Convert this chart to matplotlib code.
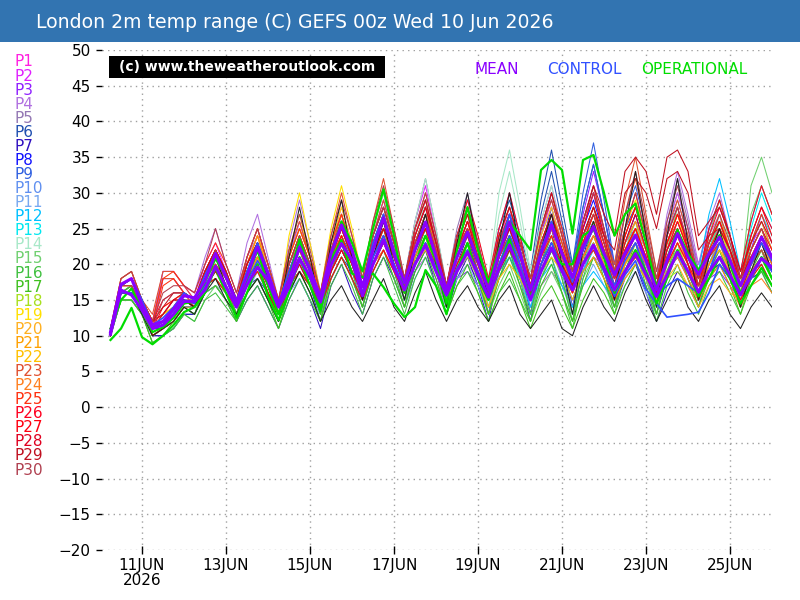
import numpy as np
import matplotlib
matplotlib.use("Agg")
import matplotlib.pyplot as plt
from matplotlib.patches import Rectangle

TITLE = "London 2m temp range (C) GEFS 00z Wed 10 Jun 2026"
FIRST_HOUR = 6      # first step: 10 Jun 06z
STEP_HOURS = 6
TICK_DAYS = [1, 3, 5, 7, 9, 11, 13, 15]
TICK_LABELS = ["11JUN\n2026", "13JUN", "15JUN", "17JUN", "19JUN", "21JUN", "23JUN", "25JUN"]
YTICKS = list(range(-20, 55, 5))

MEMBER_NAMES = ["P%d" % k for k in range(1, 31)]
MEMBER_COLORS = ["#ff20e0", "#e020ff", "#9020ff", "#b070e0", "#9478b4", "#2050b0", "#3010c0",
                 "#1010ff", "#3060e0", "#6090f0", "#78a8f0", "#00c0ff", "#00e8f0", "#a8e8c8",
                 "#70d070", "#40c040", "#40c020", "#a8e020", "#ffe000", "#ffb020", "#ffa000",
                 "#ffc000", "#e05030", "#ff8020", "#ff3010", "#ff0020", "#ff0010", "#e00020",
                 "#c01020", "#b04050"]

P1_MAX = [10,17,18,15, 12,13,15,16, 15,19,22,19, 15,20,24,20, 15,20,24,20, 16,23,27,22, 17,24,28,23, 18,25,29,23, 17,23,27,22, 16,23,28,22, 17,24,29,24, 18,25,30,24, 19,23,26,22, 17,24,28,23, 18,25,29,24, 18,23,26,22]
P1_MIN = [10,16,16,14, 11,12,14,15, 14,17,19,17, 14,18,21,18, 14,18,21,18, 15,21,24,20, 16,22,25,21, 17,23,26,21, 16,21,24,20, 15,21,25,20, 16,22,26,22, 17,23,27,22, 18,21,23,20, 16,22,25,21, 17,23,26,22, 17,21,23,20]
P2_MAX = [11,17,18,15, 12,19,19,17, 15,20,23,19, 14,21,25,20, 14,21,26,21, 15,23,28,23, 18,23,27,22, 18,26,31,24, 17,24,29,23, 17,23,27,22, 16,21,25,21, 17,21,24,22, 19,23,26,22, 18,25,30,25, 20,25,28,24, 19,23,25,21]
P2_MIN = [11,16,16,14, 11,18,18,16, 14,18,20,17, 13,19,22,18, 13,19,23,19, 14,21,25,21, 17,21,24,20, 17,24,28,22, 16,22,26,21, 16,21,24,20, 15,19,22,19, 16,19,21,20, 18,21,23,20, 17,23,27,23, 19,23,25,22, 18,21,22,19]
P3_MAX = [10,16,17,14, 11,12,13,15, 15,19,21,18, 14,18,21,17, 13,19,23,19, 14,21,26,21, 16,24,29,24, 18,23,27,22, 17,20,22,19, 15,20,24,20, 16,24,30,25, 19,27,33,27, 20,25,28,23, 17,21,24,20, 16,20,22,19, 16,22,27,23]
P3_MIN = [10,15,15,13, 10,11,12,14, 14,17,18,16, 13,16,18,15, 12,17,20,17, 13,19,23,19, 15,22,26,22, 17,21,24,20, 16,18,19,17, 14,18,21,18, 15,22,27,23, 18,25,30,25, 19,23,25,21, 16,19,21,18, 15,18,19,17, 15,20,24,21]
P4_MAX = [11,18,19,15, 12,19,19,17, 16,21,25,20, 16,23,27,21, 15,23,29,23, 16,23,27,22, 17,22,25,21, 16,21,24,20, 15,20,23,20, 17,24,28,23, 18,26,31,25, 19,24,27,23, 18,22,25,22, 18,27,33,27, 20,26,30,24, 17,21,24,20]
P4_MIN = [11,17,17,14, 11,18,18,16, 15,19,22,18, 15,21,24,19, 14,21,26,21, 15,21,24,20, 16,20,22,19, 15,19,21,18, 14,18,20,18, 16,22,25,21, 17,24,28,23, 18,22,24,21, 17,20,22,20, 17,25,30,25, 19,24,27,22, 16,19,21,18]
P5_MAX = [10,17,18,15, 11,12,14,16, 15,19,22,19, 15,20,23,18, 14,20,24,20, 16,22,26,22, 18,25,30,24, 18,26,32,25, 17,25,30,23, 16,22,26,21, 15,19,22,19, 16,21,24,21, 18,23,27,22, 17,26,32,26, 19,23,26,22, 17,20,22,19]
P5_MIN = [10,16,16,14, 10,11,13,15, 14,17,19,17, 14,18,20,16, 13,18,21,18, 15,20,23,20, 17,23,27,22, 17,24,29,23, 16,23,27,21, 15,20,23,19, 14,17,19,17, 15,19,21,19, 17,21,24,20, 16,24,29,24, 18,21,23,20, 16,18,19,17]
P6_MAX = [10,17,18,14, 11,11,12,14, 14,18,20,18, 15,19,21,18, 14,19,22,19, 15,20,24,21, 17,23,27,22, 17,24,28,22, 16,22,26,22, 18,25,29,24, 19,29,36,28, 20,28,34,27, 19,24,28,23, 17,22,25,21, 17,21,23,20, 17,22,25,21]
P6_MIN = [10,16,16,13, 10,10,11,13, 13,16,17,16, 14,17,18,16, 13,17,19,17, 14,18,21,19, 16,21,24,20, 16,22,25,20, 15,20,23,20, 17,23,26,22, 18,27,33,26, 19,26,31,25, 18,22,25,21, 16,20,22,19, 16,19,20,18, 16,20,22,19]
P7_MAX = [10,16,17,14, 11,11,12,14, 14,18,20,17, 13,17,20,16, 12,17,21,17, 12,19,23,18, 14,20,24,20, 15,21,25,19, 14,20,24,19, 13,21,27,20, 13,22,28,21, 14,21,26,21, 15,20,23,18, 13,18,22,19, 15,21,25,20, 15,20,24,20]
P7_MIN = [10,15,15,13, 10,10,11,13, 13,16,17,15, 12,15,17,14, 11,15,18,15, 11,17,20,16, 13,18,21,18, 14,19,22,17, 13,18,21,17, 12,19,24,18, 12,20,25,19, 13,19,23,19, 14,18,20,16, 12,16,19,17, 14,19,22,18, 14,18,21,18]
P8_MAX = [10,17,18,15, 11,12,13,15, 15,19,21,18, 15,19,22,18, 14,19,22,19, 15,21,25,21, 17,22,26,22, 17,23,27,21, 16,21,25,21, 16,21,24,20, 17,22,26,22, 18,25,29,24, 18,23,27,22, 17,21,24,21, 17,21,23,20, 16,20,22,18]
P8_MIN = [10,16,16,14, 10,11,12,14, 14,17,18,16, 14,17,19,16, 13,17,19,17, 14,19,22,19, 16,20,23,20, 16,21,24,19, 15,19,22,19, 15,19,21,18, 16,20,23,20, 17,23,26,22, 17,21,24,20, 16,19,21,19, 16,19,20,18, 15,18,19,16]
P9_MAX = [10,17,18,15, 11,12,14,16, 15,19,21,18, 15,20,23,19, 14,21,25,21, 16,21,25,21, 17,22,26,22, 17,24,28,22, 16,22,26,22, 17,23,27,23, 18,25,30,25, 20,30,37,29, 20,27,31,25, 18,23,27,23, 18,22,25,21, 17,21,23,19]
P9_MIN = [10,16,16,14, 10,11,13,15, 14,17,18,16, 14,18,20,17, 13,19,22,19, 15,19,22,19, 16,20,23,20, 16,22,25,20, 15,20,23,20, 16,21,24,21, 17,23,27,23, 19,28,34,27, 19,25,28,23, 17,21,24,21, 17,20,22,19, 16,19,20,17]
P10_MAX = [11,17,18,14, 11,12,13,15, 15,19,21,18, 15,19,22,18, 14,19,23,19, 15,22,26,22, 17,23,27,22, 17,22,26,21, 17,24,28,23, 17,25,30,24, 17,23,27,23, 18,23,26,22, 17,21,24,21, 17,22,26,22, 18,25,29,24, 18,23,26,22]
P10_MIN = [11,16,16,13, 10,11,12,14, 14,17,18,16, 14,17,19,16, 13,17,20,17, 14,20,23,20, 16,21,24,20, 16,20,23,19, 16,22,25,21, 16,23,27,22, 16,21,24,21, 17,21,23,20, 16,19,21,19, 16,20,23,20, 17,23,26,22, 17,21,23,20]
P11_MAX = [10,16,17,14, 11,12,13,15, 14,18,20,17, 13,18,22,18, 13,18,21,17, 14,20,24,20, 15,21,25,20, 15,20,24,19, 15,20,23,19, 14,21,25,20, 14,20,24,19, 14,19,23,19, 15,19,22,18, 14,21,25,20, 15,22,27,21, 15,20,24,20]
P11_MIN = [10,15,15,13, 10,11,12,14, 13,16,17,15, 12,16,19,16, 12,16,18,15, 13,18,21,18, 14,19,22,18, 14,18,21,17, 14,18,20,17, 13,19,22,18, 13,18,21,17, 13,17,20,17, 14,17,19,16, 13,19,22,18, 14,20,24,19, 14,18,21,18]
P12_MAX = [10,17,18,15, 11,12,13,15, 15,19,21,18, 15,19,22,18, 14,19,23,19, 15,20,24,20, 16,22,26,22, 17,24,28,23, 17,23,27,22, 16,21,25,20, 15,20,23,19, 15,19,22,19, 16,21,25,21, 17,23,27,23, 19,27,32,26, 19,26,31,27]
P12_MIN = [10,16,16,14, 10,11,12,14, 14,17,18,16, 14,17,19,16, 13,17,20,17, 14,18,21,18, 15,20,23,20, 16,22,25,21, 16,21,24,20, 15,19,22,18, 14,18,20,17, 14,17,19,17, 15,19,22,19, 16,21,24,21, 18,25,29,24, 18,24,28,25]
P13_MAX = [10,17,18,15, 11,12,14,16, 15,19,21,18, 15,20,23,19, 14,20,24,20, 15,22,27,22, 17,24,28,23, 17,23,27,22, 16,21,25,21, 16,21,24,20, 16,22,26,22, 18,24,28,23, 18,23,26,22, 17,21,24,21, 17,22,26,22, 18,25,30,26]
P13_MIN = [10,16,16,14, 10,11,13,15, 14,17,18,16, 14,18,20,17, 13,18,21,18, 14,20,24,20, 16,22,25,21, 16,21,24,20, 15,19,22,19, 15,19,21,18, 15,20,23,20, 17,22,25,21, 17,21,23,20, 16,19,21,19, 16,20,23,20, 17,23,27,24]
P14_MAX = [10,16,17,14, 11,12,13,15, 14,18,20,18, 15,19,22,18, 14,19,23,19, 15,22,26,22, 17,25,30,24, 18,26,32,25, 17,24,29,24, 18,30,36,28, 19,26,31,24, 17,22,25,21, 16,20,23,20, 16,21,25,21, 16,21,24,20, 15,19,22,18]
P14_MIN = [10,15,15,13, 10,11,12,14, 13,16,17,16, 14,17,19,16, 13,17,20,17, 14,20,23,20, 16,23,27,22, 17,24,29,23, 16,22,26,22, 17,27,33,26, 18,24,28,22, 16,20,22,19, 15,18,20,18, 15,19,22,19, 15,19,21,18, 14,17,19,16]
P15_MAX = [10,16,17,14, 10,11,12,14, 13,17,20,17, 13,18,21,17, 13,18,22,18, 13,20,24,20, 15,21,25,20, 15,22,26,21, 15,21,25,20, 14,19,23,18, 13,18,22,18, 13,20,24,20, 15,22,26,20, 14,22,28,22, 16,24,29,23, 17,31,35,30]
P15_MIN = [10,15,15,13, 9,10,11,13, 12,15,17,15, 12,16,18,15, 12,16,19,16, 12,18,21,18, 14,19,22,18, 14,20,23,19, 14,19,22,18, 13,17,20,16, 12,16,19,16, 12,18,21,18, 14,20,23,18, 13,20,25,20, 15,22,26,21, 16,27,31,27]
P16_MAX = [10,16,17,14, 10,11,12,14, 13,17,19,16, 13,17,20,16, 12,17,21,17, 13,19,23,19, 14,20,24,19, 14,20,24,19, 14,19,22,18, 13,18,21,17, 13,20,24,18, 12,20,26,20, 14,21,25,19, 13,19,23,18, 14,19,22,18, 14,20,24,20]
P16_MIN = [10,15,15,13, 9,10,11,13, 12,15,16,14, 12,15,17,14, 11,15,18,15, 12,17,20,17, 13,18,21,17, 13,18,21,17, 13,17,19,16, 12,16,18,15, 12,18,21,16, 11,18,23,18, 13,19,22,17, 12,17,20,16, 13,17,19,16, 13,18,21,18]
P17_MAX = [10,16,17,14, 10,11,13,15, 14,18,20,17, 13,18,21,17, 12,18,22,18, 13,20,24,20, 15,21,25,20, 15,21,25,20, 14,19,23,18, 13,18,22,17, 12,17,20,16, 12,17,21,18, 14,19,23,19, 14,21,25,20, 15,20,23,19, 14,19,22,18]
P17_MIN = [10,15,15,13, 9,10,12,14, 13,16,17,15, 12,16,18,15, 11,16,19,16, 12,18,21,18, 14,19,22,18, 14,19,22,18, 13,17,20,16, 12,16,19,15, 11,15,17,14, 11,15,18,16, 13,17,20,17, 13,19,22,18, 14,18,20,17, 13,17,19,16]
P18_MAX = [10,17,18,15, 11,12,14,16, 15,19,21,18, 15,19,22,18, 14,19,22,19, 15,21,25,21, 17,22,26,22, 17,22,26,21, 16,21,24,20, 16,22,26,22, 17,23,27,22, 17,22,25,21, 17,21,24,20, 16,20,22,19, 16,21,24,21, 17,22,25,21]
P18_MIN = [10,16,16,14, 10,11,13,15, 14,17,18,16, 14,17,19,16, 13,17,19,17, 14,19,22,19, 16,20,23,20, 16,20,23,19, 15,19,21,18, 15,20,23,20, 16,21,24,20, 16,20,22,19, 16,19,21,18, 15,18,19,17, 15,19,21,19, 16,20,22,19]
P19_MAX = [11,17,18,15, 12,13,14,16, 15,19,22,19, 15,20,24,19, 14,24,30,23, 16,25,31,25, 18,23,27,22, 17,22,26,22, 17,22,25,21, 17,23,27,22, 17,22,26,22, 18,24,28,24, 19,25,29,24, 18,23,27,22, 17,22,25,21, 17,21,24,20]
P19_MIN = [11,16,16,14, 11,12,13,15, 14,17,19,17, 14,18,21,17, 13,22,27,21, 15,23,28,23, 17,21,24,20, 16,20,23,20, 16,20,22,19, 16,21,24,20, 16,20,23,20, 17,22,25,22, 18,23,26,22, 17,21,24,20, 16,20,22,19, 16,19,21,18]
P20_MAX = [11,17,18,15, 12,13,14,16, 15,19,22,19, 15,20,24,20, 15,21,25,21, 16,23,27,22, 17,22,26,22, 17,22,25,21, 17,23,27,22, 17,22,26,22, 18,24,28,23, 18,23,27,22, 17,22,25,21, 16,20,23,19, 15,19,21,18, 16,20,23,19]
P20_MIN = [11,16,16,14, 11,12,13,15, 14,17,19,17, 14,18,21,18, 14,19,22,19, 15,21,24,20, 16,20,23,20, 16,20,22,19, 16,21,24,20, 16,20,23,20, 17,22,25,21, 17,21,24,20, 16,20,22,19, 15,18,20,17, 14,17,18,16, 15,18,20,17]
P21_MAX = [10,17,18,15, 11,12,13,15, 15,19,21,18, 15,20,23,19, 14,20,24,20, 15,22,26,22, 17,23,27,23, 18,24,28,22, 17,22,26,21, 16,23,27,22, 16,21,25,21, 16,21,24,20, 16,20,23,20, 17,22,26,22, 18,23,27,22, 17,22,25,21]
P21_MIN = [10,16,16,14, 10,11,12,14, 14,17,18,16, 14,18,20,17, 13,18,21,18, 14,20,23,20, 16,21,24,21, 17,22,25,20, 16,20,23,19, 15,21,24,20, 15,19,22,19, 15,19,21,18, 15,18,20,18, 16,20,23,20, 17,21,24,20, 16,20,22,19]
P22_MAX = [11,18,19,15, 12,14,15,16, 15,19,22,19, 15,20,24,20, 15,21,25,21, 16,23,27,22, 17,22,26,22, 17,23,27,21, 16,21,25,20, 15,20,23,20, 16,21,24,21, 17,22,26,22, 18,24,28,23, 18,23,27,22, 17,22,25,22, 18,23,26,22]
P22_MIN = [11,17,17,14, 11,13,14,15, 14,17,19,17, 14,18,21,18, 14,19,22,19, 15,21,24,20, 16,20,23,20, 16,21,24,19, 15,19,22,18, 14,18,20,18, 15,19,21,19, 16,20,23,20, 17,22,25,21, 17,21,24,20, 16,20,22,20, 17,21,23,20]
P23_MAX = [11,17,18,15, 13,19,19,17, 15,19,22,19, 15,21,25,20, 15,22,26,21, 16,24,30,24, 18,26,32,25, 18,25,30,24, 17,24,28,22, 16,22,26,21, 16,21,25,21, 17,23,27,24, 20,29,35,27, 19,25,29,24, 18,23,26,22, 17,21,24,20]
P23_MIN = [11,16,16,14, 12,18,18,16, 14,17,19,17, 14,19,22,18, 14,20,23,19, 15,22,27,22, 17,24,29,23, 17,23,27,22, 16,22,25,20, 15,20,23,19, 15,19,22,19, 16,21,24,22, 19,27,32,25, 18,23,26,22, 17,21,23,20, 16,19,21,18]
P24_MAX = [11,17,18,15, 12,13,15,16, 15,19,22,19, 15,20,24,19, 14,20,24,20, 16,22,26,22, 17,22,25,21, 17,23,27,22, 17,22,26,21, 17,24,28,23, 18,25,29,24, 18,23,27,23, 18,23,26,22, 17,21,24,20, 16,20,23,19, 15,19,21,18]
P24_MIN = [11,16,16,14, 11,12,14,15, 14,17,19,17, 14,18,21,17, 13,18,21,18, 15,20,23,20, 16,20,22,19, 16,21,24,20, 16,20,23,19, 16,22,25,21, 17,23,26,22, 17,21,24,21, 17,21,23,20, 16,19,21,18, 15,18,20,17, 14,17,18,16]
P25_MAX = [11,18,19,15, 12,18,19,17, 16,20,23,20, 16,21,25,20, 15,21,25,21, 16,23,27,22, 17,24,28,23, 18,25,29,23, 17,23,27,22, 17,24,28,23, 18,25,30,25, 19,26,31,25, 19,24,28,23, 18,23,27,23, 18,23,26,22, 18,23,27,23]
P25_MIN = [11,17,17,14, 11,17,18,16, 15,18,20,18, 15,19,22,18, 14,19,22,19, 15,21,24,20, 16,22,25,21, 17,23,26,21, 16,21,24,20, 16,22,25,21, 17,23,27,23, 18,24,28,23, 18,22,25,21, 17,21,24,21, 17,21,23,20, 17,21,24,21]
P26_MAX = [11,17,18,15, 12,15,16,16, 15,19,22,19, 15,20,23,18, 14,19,23,19, 15,21,25,21, 17,22,26,22, 17,24,28,23, 17,24,29,24, 18,25,30,24, 17,23,27,22, 17,22,25,21, 16,21,24,21, 17,22,26,22, 18,24,28,24, 19,26,31,27]
P26_MIN = [11,16,16,14, 11,14,15,15, 14,17,19,17, 14,18,20,16, 13,17,20,17, 14,19,22,19, 16,20,23,20, 16,22,25,21, 16,22,26,22, 17,23,27,22, 16,21,24,20, 16,20,22,19, 15,19,21,19, 16,20,23,20, 17,22,25,22, 18,24,28,25]
P27_MAX = [10,17,18,15, 11,12,14,16, 15,19,21,18, 15,19,22,18, 14,19,22,19, 15,20,24,20, 16,21,25,21, 17,22,26,22, 17,24,28,23, 17,23,27,22, 17,22,26,22, 18,25,30,24, 18,24,28,23, 17,23,27,23, 18,25,29,24, 18,24,28,24]
P27_MIN = [10,16,16,14, 10,11,13,15, 14,17,18,16, 14,17,19,16, 13,17,19,17, 14,18,21,18, 15,19,22,19, 16,20,23,20, 16,22,25,21, 16,21,24,20, 16,20,23,20, 17,23,27,22, 17,22,25,21, 16,21,24,21, 17,23,26,22, 17,22,25,22]
P28_MAX = [11,17,18,15, 12,13,15,16, 15,19,22,19, 15,20,23,18, 14,19,23,19, 15,21,25,21, 17,23,27,22, 17,24,28,23, 17,22,26,21, 16,21,25,21, 16,22,26,22, 18,24,28,23, 18,25,30,24, 17,24,28,22, 16,21,24,20, 16,20,23,19]
P28_MIN = [11,16,16,14, 11,12,14,15, 14,17,19,17, 14,18,20,16, 13,17,20,17, 14,19,22,19, 16,21,24,20, 16,22,25,21, 16,20,23,19, 15,19,22,19, 15,20,23,20, 17,22,25,21, 17,23,27,22, 16,22,25,20, 15,19,21,18, 15,18,20,17]
P29_MAX = [11,17,18,15, 12,14,16,16, 15,19,22,19, 15,20,23,19, 14,20,24,20, 15,22,26,22, 17,24,28,23, 18,25,29,23, 17,23,27,22, 17,24,28,23, 18,25,30,24, 18,26,31,27, 24,33,35,33, 27,35,36,33, 24,26,28,24, 19,23,26,23]
P29_MIN = [11,16,16,14, 11,13,15,15, 14,17,19,17, 14,18,20,17, 13,18,21,18, 14,20,23,20, 16,22,25,21, 17,23,26,21, 16,21,24,20, 16,22,25,21, 17,23,27,22, 17,24,28,24, 22,30,32,30, 25,32,33,30, 22,24,25,22, 18,21,23,21]
P30_MAX = [11,18,19,15, 12,16,17,17, 16,20,25,20, 16,21,25,20, 15,22,27,22, 16,24,29,24, 18,26,31,25, 18,25,30,24, 17,24,28,23, 17,23,27,23, 18,25,29,24, 19,26,30,25, 19,27,33,26, 19,26,31,25, 18,23,27,23, 18,22,25,21]
P30_MIN = [11,17,17,14, 11,15,16,16, 15,18,22,18, 15,19,22,18, 14,20,24,20, 15,22,26,22, 17,24,28,23, 17,23,27,22, 16,22,25,21, 16,21,24,21, 17,23,26,22, 18,24,27,23, 18,25,30,24, 18,24,28,23, 17,21,24,21, 17,20,22,19]

EXTRA_MAX = [10,17,18,14, 11,12,13,15, 14,18,21,17, 14,19,23,18, 13,21,28,21, 14,23,29,21, 15,21,26,20, 15,22,27,20, 14,23,30,22, 15,23,30,22, 15,22,27,20, 13,22,26,21, 15,25,33,24, 14,24,32,23, 15,21,25,19, 14,19,23,19]
EXTRA_MIN = [10,16,16,13, 10,11,12,14, 13,16,18,15, 13,16,18,15, 12,16,19,16, 12,15,17,14, 12,15,18,14, 12,16,19,15, 12,15,17,14, 12,15,17,13, 11,13,15,11, 10,14,17,14, 12,16,19,15, 12,15,18,14, 12,15,17,13, 11,14,16,14]

CONTROL_MAX = [10.5,17,18,15, 11.5,12.5,14,16, 15,18.5,21.5,18.5, 15,19,23,19, 14.5,19,23,19.5, 15.5,21.5,25.5,22, 17,23,27,22, 17.5,22,26,21, 16.5,21,24.5,20.5, 16.5,22,27,22, 16.5,22,26,21.5, 17.5,22,25,21, 17,20.5,23,19, 15.5,17,18,17, 16,19,23,20, 17,20,23,20.5]
CONTROL_MIN = [10.2,16,16,14, 11,12,13.5,15, 14.5,17,19.5,17, 14,17.5,20.5,18, 14,17,20.5,18, 15,20,23,20.5, 16,21,24,20, 16.5,20,23,19.5, 15.5,19.5,22,19, 15.5,20,24,20, 15.5,20,23,19.5, 16.5,20,22.5,19, 15.5,18.5,20.5,16.5, 14.5,12.6,12.8,13.0, 13.3,16,20,18, 16,18,21,19]

OPER_MAX = [11,15,16.6,13.6, 10.5,11.2,12.5,14.5, 14.8,17.5,20.8,18.3, 14.5,18,22,17, 13,18,23.5,19, 14,21,26,23, 19,25,30.5,24, 16,20,24,20.5, 14.5,22,28,22, 17.5,22,26,24, 22,33.2,34.6,33.2, 24.3,34.6,35.3,30, 24,27,28.5,23, 16.8,20.5,24.8,21.5, 19.2,21.5,24.1,20, 16,18.5,21,18]
OPER_MIN = [9.4,11,13.9,9.8, 8.8,10,11.5,13.3, 14,16,19.5,16, 12.5,16,20,15.5, 12.2,16,21,17, 13.5,20.6,23.4,18.7, 18.2,18.7,16.8,14.5, 12.6,14,19.2,17, 13,19,23,18, 15,19.5,23.5,19, 15.5,19,22,20, 20,24,25,21, 16,19,22,19, 14.5,18,22,19, 15.5,18,21,18, 14.5,17,19.5,17]

MEAN_MAX = [10.5,17.2,18.0,14.3, 11.5,12.0,13.7,15.6, 15.3,17.7,21.5,18.2, 14.7,18.3,22.4,18.7, 14.5,17.8,22.4,19.2, 15.4,21.5,25.5,22.0, 16.8,22.0,26.5,21.5, 17.4,22.0,25.9,21.0, 16.4,21.0,24.5,20.5, 16.4,21.5,25.9,21.5, 16.4,21.5,25.5,21.5, 18.2,22.5,25.3,21.5, 18.5,21.5,24.1,20.5, 16.4,20.5,24.3,21.0, 18.6,21.5,23.8,20.5, 17.0,20.5,23.8,21.0]
MEAN_MIN = [10.2,16.4,15.7,13.6, 11.0,11.5,13.0,14.8, 14.8,16.4,19.7,16.8, 14.0,17.1,19.6,17.8, 14.0,16.8,20.8,18.3, 14.7,19.9,22.9,20.6, 15.6,20.0,23.4,19.5, 16.4,20.0,22.7,19.0, 15.7,19.0,21.7,18.5, 15.4,19.5,22.7,19.0, 15.0,19.0,22.3,19.0, 16.4,20.0,22.7,19.5, 16.4,19.0,21.5,18.5, 15.5,18.5,21.7,19.0, 16.1,19.0,21.0,18.5, 15.7,18.5,20.8,19.6]

MEMBERS_MAX = [P1_MAX, P2_MAX, P3_MAX, P4_MAX, P5_MAX, P6_MAX, P7_MAX, P8_MAX, P9_MAX, P10_MAX,
               P11_MAX, P12_MAX, P13_MAX, P14_MAX, P15_MAX, P16_MAX, P17_MAX, P18_MAX, P19_MAX, P20_MAX,
               P21_MAX, P22_MAX, P23_MAX, P24_MAX, P25_MAX, P26_MAX, P27_MAX, P28_MAX, P29_MAX, P30_MAX]
MEMBERS_MIN = [P1_MIN, P2_MIN, P3_MIN, P4_MIN, P5_MIN, P6_MIN, P7_MIN, P8_MIN, P9_MIN, P10_MIN,
               P11_MIN, P12_MIN, P13_MIN, P14_MIN, P15_MIN, P16_MIN, P17_MIN, P18_MIN, P19_MIN, P20_MIN,
               P21_MIN, P22_MIN, P23_MIN, P24_MIN, P25_MIN, P26_MIN, P27_MIN, P28_MIN, P29_MIN, P30_MIN]

MEAN_COLOR = "#8a00ff"
CONTROL_COLOR = "#3050ff"
OPER_COLOR = "#00dd00"


def times(vals):
    n = len(vals)
    return (FIRST_HOUR + STEP_HOURS * np.arange(n)) / 24.0


fig = plt.figure(figsize=(8, 6), dpi=100)
fig.patch.set_facecolor("white")
fig.patches.append(Rectangle((0, 1 - 42 / 600), 1, 42 / 600, transform=fig.transFigure,
                             facecolor="#3274b1", edgecolor="none", zorder=0))
fig.text(36 / 800, 1 - 22 / 600, TITLE, color="white", fontsize=13.6, ha="left", va="center")

ax = fig.add_axes([102 / 800, 50 / 600, 670 / 800, 500 / 600])
for s in ax.spines.values():
    s.set_visible(False)
ax.set_xlim(2 / 42, 16.0)
ax.set_ylim(-20, 50)
ax.set_yticks(YTICKS)
ax.set_yticklabels(["\u2212%d" % -v if v < 0 else "%d" % v for v in YTICKS], fontsize=11)
ax.set_xticks(TICK_DAYS)
ax.set_xticklabels(TICK_LABELS, fontsize=11, linespacing=1.0)
ax.tick_params(axis="y", direction="out", length=4, width=1, pad=4)
ax.tick_params(axis="x", direction="inout", length=6, width=1, pad=3)
ax.grid(True, color="#a0a0a0", linestyle=(0, (1, 3)), linewidth=1)
ax.set_axisbelow(True)

for col, mx, mn in zip(MEMBER_COLORS, MEMBERS_MAX, MEMBERS_MIN):
    ax.plot(times(mx), mx, color=col, lw=0.75, zorder=2)
    ax.plot(times(mn), mn, color=col, lw=0.75, zorder=2)
ax.plot(times(EXTRA_MAX), EXTRA_MAX, color="#202020", lw=0.75, zorder=2)
ax.plot(times(EXTRA_MIN), EXTRA_MIN, color="#202020", lw=0.75, zorder=2)
ax.plot(times(CONTROL_MAX), CONTROL_MAX, color=CONTROL_COLOR, lw=1.2, zorder=3)
ax.plot(times(CONTROL_MIN), CONTROL_MIN, color=CONTROL_COLOR, lw=1.2, zorder=3)
ax.plot(times(OPER_MAX), OPER_MAX, color=OPER_COLOR, lw=1.6, zorder=4)
ax.plot(times(OPER_MIN), OPER_MIN, color=OPER_COLOR, lw=1.6, zorder=4)
ax.plot(times(MEAN_MAX), MEAN_MAX, color=MEAN_COLOR, lw=2.2, zorder=5)
ax.plot(times(MEAN_MIN), MEAN_MIN, color=MEAN_COLOR, lw=2.2, zorder=5)

# watermark box
fig.patches.append(Rectangle((109 / 800, 1 - 78 / 600), 276 / 800, 22 / 600, transform=fig.transFigure,
                             facecolor="black", edgecolor="none", zorder=6))
fig.text(247 / 800, 1 - 67 / 600, "(c) www.theweatheroutlook.com", color="white", fontsize=10,
         fontweight="bold", ha="center", va="center", zorder=7)

# legend words
fig.text(474 / 800, 1 - 69 / 600, "MEAN", color=MEAN_COLOR, fontsize=11, ha="left", va="center")
fig.text(547 / 800, 1 - 69 / 600, "CONTROL", color=CONTROL_COLOR, fontsize=11, ha="left", va="center")
fig.text(641 / 800, 1 - 69 / 600, "OPERATIONAL", color=OPER_COLOR, fontsize=11, ha="left", va="center")

# member labels
for k, (name, col) in enumerate(zip(MEMBER_NAMES, MEMBER_COLORS)):
    fig.text(15 / 800, 1 - (62 + k * 14.07) / 600, name, color=col, fontsize=11, ha="left", va="center")

fig.savefig("out.png", dpi=100, facecolor="white")
